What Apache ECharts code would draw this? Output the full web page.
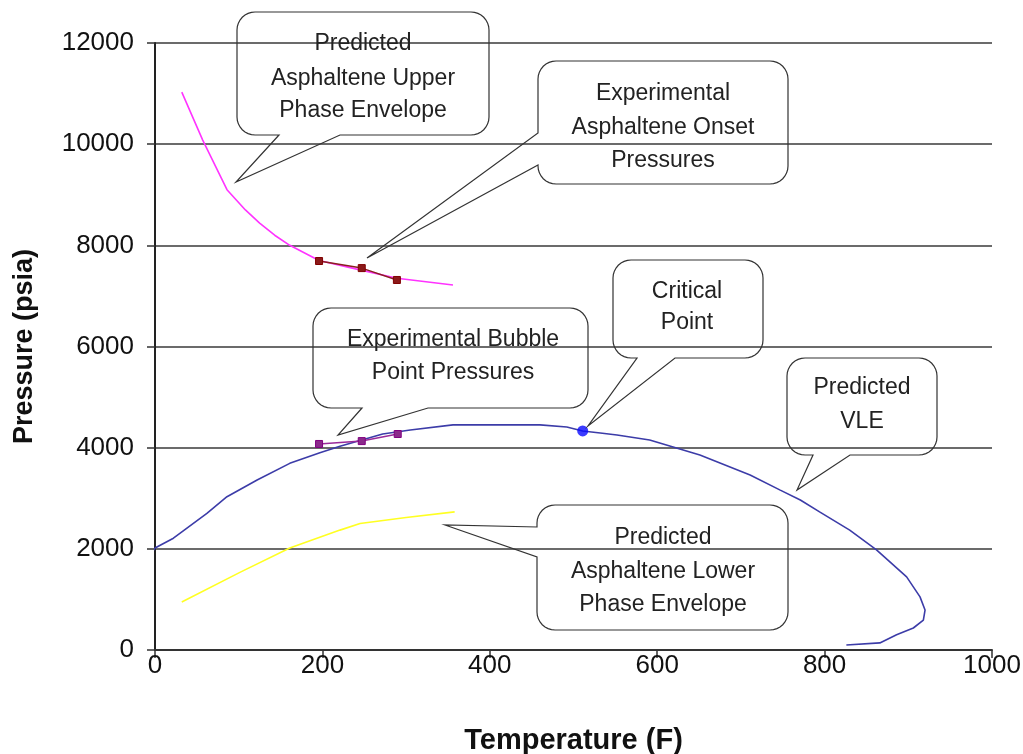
<!DOCTYPE html>
<html>
<head>
<meta charset="utf-8">
<script src="https://cdn.jsdelivr.net/npm/echarts@6/dist/echarts.min.js"></script>
<style>
html,body{margin:0;padding:0;background:#fff;}
#chart{width:1023px;height:754px;}
</style>
</head>
<body>
<div id="chart"></div>
<script>
// ---- data (Temperature F, Pressure psia) ----
var upperT = [32, 57, 86, 108, 125, 143, 161, 196, 241, 289, 356];
var upperP = [11030, 10080, 9100, 8700, 8440, 8200, 8000, 7700, 7530, 7350, 7215];

var lowerT = [32, 102, 161, 181, 221, 245, 300, 358];
var lowerP = [950, 1540, 2015, 2135, 2370, 2500, 2620, 2730];

var vleT = [-7, 0, 22, 62, 86, 122, 161, 197, 221, 272, 305, 356, 400, 460, 492, 511, 532, 552, 591, 651, 711, 747, 771, 794, 830, 862, 898, 914, 920, 918, 906, 886, 866, 826];
var vleP = [1840, 2015, 2210, 2700, 3030, 3360, 3690, 3900, 4030, 4270, 4350, 4450, 4450, 4450, 4410, 4330, 4290, 4250, 4150, 3855, 3460, 3160, 2965, 2730, 2370, 1980, 1445, 1050, 790, 590, 435, 300, 140, 100];

var onsetT = [196, 247, 289];
var onsetP = [7690, 7550, 7315];

var bubbleT = [196, 247, 290];
var bubbleP = [4073, 4130, 4270];

var criticalT = [511];
var criticalP = [4330];

var calloutTexts = [
  ['Predicted', 'Asphaltene Upper', 'Phase Envelope'],
  ['Experimental', 'Asphaltene Onset', 'Pressures'],
  ['Critical', 'Point'],
  ['Experimental Bubble', 'Point Pressures'],
  ['Predicted', 'VLE'],
  ['Predicted', 'Asphaltene Lower', 'Phase Envelope']
];

function pairs(xs, ys) { return xs.map(function (x, i) { return [x, ys[i]]; }); }

// ---- callout layout (pixels) ----
var calloutLayout = [
  {x: 237, y: 12, w: 252, h: 123, side: 'bottom', b1: 279, b2: 340, tip: [236, 182], lines: [44, 79, 111], cx: 363},
  {x: 538, y: 61, w: 250, h: 123, side: 'left', b1: 133, b2: 165, tip: [367, 258], lines: [94, 128, 161], cx: 663},
  {x: 613, y: 260, w: 150, h: 98, side: 'bottom', b1: 637, b2: 675, tip: [588, 426], lines: [292, 323], cx: 687},
  {x: 313, y: 308, w: 275, h: 100, side: 'bottom', b1: 362, b2: 428, tip: [338, 435], lines: [340, 373], cx: 453},
  {x: 787, y: 358, w: 150, h: 97, side: 'bottom', b1: 813, b2: 850, tip: [797, 490], lines: [388, 422], cx: 862},
  {x: 537, y: 505, w: 251, h: 125, side: 'left', b1: 527, b2: 557, tip: [445, 525], lines: [538, 572, 605], cx: 663}
];

function arcPts(cx, cy, r, a0, a1) {
  var pts = [], n = 8;
  for (var k = 0; k <= n; k++) {
    var a = a0 + (a1 - a0) * k / n;
    pts.push([cx + r * Math.cos(a), cy + r * Math.sin(a)]);
  }
  return pts;
}

function calloutPoints(c) {
  var r = 18, x = c.x, y = c.y, w = c.w, h = c.h, P = Math.PI;
  var pts = [];
  pts = pts.concat(arcPts(x + w - r, y + r, r, -P / 2, 0));
  pts = pts.concat(arcPts(x + w - r, y + h - r, r, 0, P / 2));
  if (c.side === 'bottom') {
    pts.push([c.b2, y + h], [c.tip[0], c.tip[1]], [c.b1, y + h]);
  }
  pts = pts.concat(arcPts(x + r, y + h - r, r, P / 2, P));
  if (c.side === 'left') {
    pts.push([x, c.b2], [c.tip[0], c.tip[1]], [x, c.b1]);
  }
  pts = pts.concat(arcPts(x + r, y + r, r, P, 3 * P / 2));
  return pts;
}

var graphics = [];
calloutLayout.forEach(function (c, i) {
  graphics.push({
    type: 'polygon', z: 100,
    shape: {points: calloutPoints(c)},
    style: {fill: 'none', stroke: '#333', lineWidth: 1.2}
  });
  calloutTexts[i].forEach(function (t, j) {
    graphics.push({
      type: 'text', z: 101, x: c.cx, y: c.lines[j],
      style: {text: t, fill: '#222', font: '23px "Liberation Sans", Arial, sans-serif', textAlign: 'center', textVerticalAlign: 'middle'}
    });
  });
});

var font = '"Liberation Sans", Arial, sans-serif';
var chart = echarts.init(document.getElementById('chart'));
chart.setOption({
  animation: false,
  backgroundColor: '#fff',
  grid: {left: 155, right: 31, top: 43, bottom: 104, containLabel: false, outerBoundsMode: 'none'},
  xAxis: {
    type: 'value', min: 0, max: 1000, interval: 200,
    name: 'Temperature (F)', nameLocation: 'middle', nameGap: 76,
    nameTextStyle: {fontFamily: font, fontWeight: 'bold', fontSize: 29, color: '#111'},
    axisLine: {show: true, onZero: false, lineStyle: {color: '#333', width: 2}},
    axisTick: {show: true, length: 8, lineStyle: {color: '#333', width: 1.5}},
    axisLabel: {fontFamily: font, fontSize: 26, color: '#111', margin: 3,
      formatter: function (v) { return String(v); }},
    splitLine: {show: false}
  },
  yAxis: {
    type: 'value', min: 0, max: 12000, interval: 2000,
    name: 'Pressure (psia)', nameLocation: 'middle', nameGap: 117,
    nameTextStyle: {fontFamily: font, fontWeight: 'bold', fontSize: 27, color: '#111'},
    axisLine: {show: true, onZero: false, lineStyle: {color: '#222', width: 2}},
    axisTick: {show: true, length: 8, lineStyle: {color: '#333', width: 1.5}},
    axisLabel: {fontFamily: font, fontSize: 26, color: '#111', margin: 21,
      formatter: function (v) { return String(v); }},
    splitLine: {show: true, lineStyle: {color: '#3a3a3a', width: 1.5}}
  },
  series: [
    {name: 'Upper', type: 'line', data: pairs(upperT, upperP), showSymbol: false, symbol: 'none',
      lineStyle: {color: '#ff33ff', width: 1.6}, z: 3},
    {name: 'Lower', type: 'line', data: pairs(lowerT, lowerP), showSymbol: false, symbol: 'none',
      lineStyle: {color: '#ffff22', width: 1.6}, z: 3},
    {name: 'VLE', type: 'line', data: pairs(vleT, vleP), showSymbol: false, symbol: 'none', clip: false,
      lineStyle: {color: '#3c3ca8', width: 1.6}, z: 3},
    {name: 'Onset', type: 'line', data: pairs(onsetT, onsetP), symbol: 'rect', symbolSize: 7,
      itemStyle: {color: '#8b1a1a', borderColor: '#800000', borderWidth: 1},
      lineStyle: {color: '#8b2020', width: 1.5}, z: 4},
    {name: 'Bubble', type: 'line', data: pairs(bubbleT, bubbleP), symbol: 'rect', symbolSize: 7,
      itemStyle: {color: '#8b2a8b', borderColor: '#800080', borderWidth: 1},
      lineStyle: {color: '#9a2a9a', width: 1.5}, z: 4},
    {name: 'Critical', type: 'scatter', data: pairs(criticalT, criticalP), symbol: 'circle', symbolSize: 11,
      itemStyle: {color: '#0a0aff'}, z: 5}
  ],
  graphic: graphics
});
</script>
</body>
</html>
